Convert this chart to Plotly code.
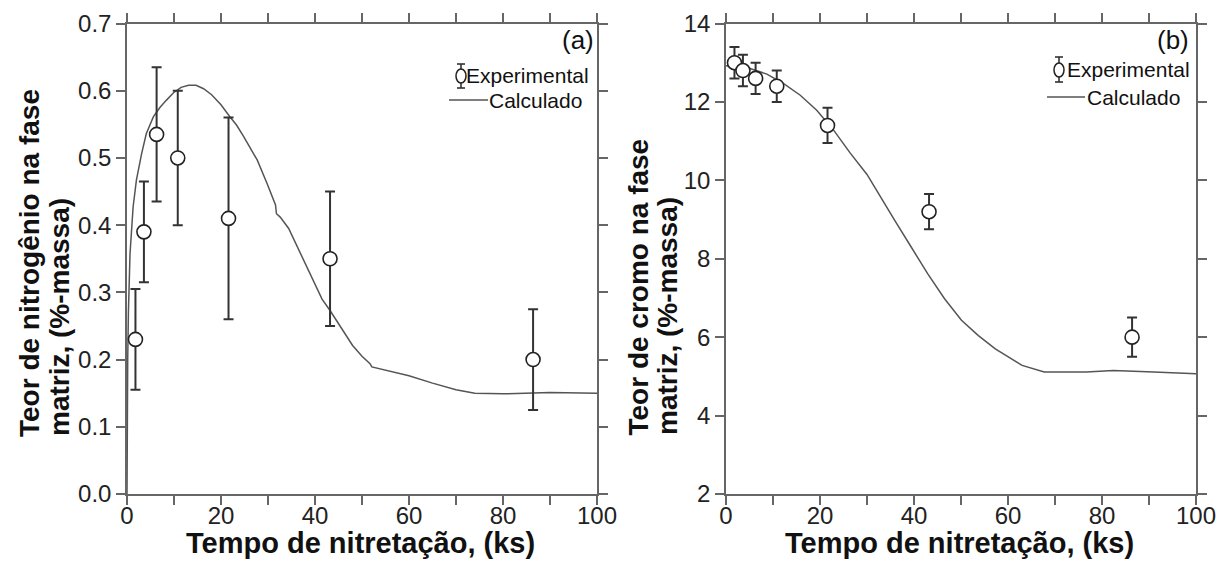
import plotly.graph_objects as go

W, H = 1227, 564

# ---------------- data ----------------
t_exp = [1.8, 3.6, 6.3, 10.8, 21.6, 43.2, 86.4]

n_exp = [0.23, 0.39, 0.535, 0.50, 0.41, 0.35, 0.20]
n_err = [0.075, 0.075, 0.10, 0.10, 0.15, 0.10, 0.075]

t_calc_n = [0, 0.05, 0.15, 0.3, 0.64, 1.3, 2.0, 3.1, 4.1, 5.6, 7.0, 8.4, 9.9, 11.5,
            13.1, 14.7, 16.3, 18.0, 20.0, 21.8, 23.3, 24.8, 27.7, 29.8, 31.6, 31.8,
            32.6, 34.4, 36.9, 39.7, 41.5, 43.2, 45.0, 48.0, 50.0, 51.7, 52.1, 56.0,
            60.0, 65.0, 70.0, 74.0, 80.0, 90.0, 100.0]
n_calc = [0.0, 0.10, 0.20, 0.27, 0.357, 0.427, 0.467, 0.506, 0.536, 0.561, 0.575,
          0.586, 0.597, 0.605, 0.608, 0.608, 0.603, 0.594, 0.579, 0.562, 0.549,
          0.532, 0.497, 0.462, 0.430, 0.417, 0.412, 0.395, 0.358, 0.318, 0.290,
          0.273, 0.253, 0.221, 0.205, 0.194, 0.189, 0.183, 0.176, 0.165, 0.155,
          0.150, 0.149, 0.151, 0.150]

cr_exp = [13.0, 12.8, 12.6, 12.4, 11.4, 9.2, 6.0]
cr_err = [0.4, 0.4, 0.4, 0.4, 0.45, 0.45, 0.5]

t_calc_cr = [0, 2.0, 5.1, 8.7, 12.2, 15.8, 19.3, 22.9, 26.4, 30.0, 32.2, 35.8, 39.4,
             42.9, 46.5, 50.1, 53.7, 57.3, 63.0, 67.7, 76.7, 82.4, 91.0, 100.0]
cr_calc = [12.92, 12.90, 12.85, 12.71, 12.47, 12.17, 11.79, 11.28, 10.70, 10.15,
           9.70, 9.00, 8.30, 7.62, 6.98, 6.43, 6.04, 5.70, 5.28, 5.11, 5.11, 5.15,
           5.11, 5.07]

x_ticks = list(range(0, 101, 10))
x_ticktext = [str(v) if v % 20 == 0 else "" for v in x_ticks]
yn_ticks = [0.0, 0.1, 0.2, 0.3, 0.4, 0.5, 0.6, 0.7]
yn_text = [f"{v:.1f}" for v in yn_ticks]
ycr_ticks = [2, 4, 6, 8, 10, 12, 14]
ycr_text = [str(v) for v in ycr_ticks]

FONT = "Liberation Sans, Arial, sans-serif"
AX = "#666666"
LINE = "#555555"
INK = "#222222"


def px(x):
    return x / W


def py(y):
    return 1 - y / H


fig = go.Figure()

# panel (a)
fig.add_trace(go.Scatter(x=t_calc_n, y=n_calc, mode="lines",
                         line=dict(color=LINE, width=1.5),
                         xaxis="x", yaxis="y", showlegend=False))
fig.add_trace(go.Scatter(x=t_exp, y=n_exp, mode="markers",
                         marker=dict(symbol="circle", size=14, color="white",
                                     line=dict(color=INK, width=1.6)),
                         error_y=dict(type="data", array=n_err, color="#333333",
                                      thickness=2, width=5),
                         xaxis="x", yaxis="y", showlegend=False))
# panel (b)
fig.add_trace(go.Scatter(x=t_calc_cr, y=cr_calc, mode="lines",
                         line=dict(color=LINE, width=1.5),
                         xaxis="x2", yaxis="y2", showlegend=False))
fig.add_trace(go.Scatter(x=t_exp, y=cr_exp, mode="markers",
                         marker=dict(symbol="circle", size=14, color="white",
                                     line=dict(color=INK, width=1.6)),
                         error_y=dict(type="data", array=cr_err, color="#333333",
                                      thickness=2, width=5),
                         xaxis="x2", yaxis="y2", showlegend=False))

axis_common = dict(ticks="outside", ticklen=9, tickwidth=1.5, tickcolor=AX,
                   showline=True, linecolor=AX, linewidth=1.5, mirror="ticks",
                   showgrid=False, zeroline=False, automargin=False,
                   tickfont=dict(family=FONT, size=24, color=INK))

ydom = [py(494), py(23.5)]

fig.update_layout(
    width=W, height=H, autosize=False,
    margin=dict(l=0, r=0, t=0, b=0, autoexpand=False),
    paper_bgcolor="white", plot_bgcolor="white",
    xaxis=dict(domain=[px(127), px(597)], range=[0, 100], anchor="y",
               tickvals=x_ticks, ticktext=x_ticktext, ticklabelstandoff=-10,
               **axis_common),
    yaxis=dict(domain=ydom, range=[0, 0.7], anchor="x",
               tickvals=yn_ticks, ticktext=yn_text, **axis_common),
    xaxis2=dict(domain=[px(726), px(1196)], range=[0, 100], anchor="y2",
                tickvals=x_ticks, ticktext=x_ticktext, ticklabelstandoff=-10,
                **axis_common),
    yaxis2=dict(domain=ydom, range=[2, 14], anchor="x2",
                tickvals=ycr_ticks, ticktext=ycr_text, **axis_common),
)

annotations = []
shapes = []


def ann(text, x, y, size, xanchor="center", yanchor="middle", bold=False,
        angle=0):
    annotations.append(dict(
        text=f"<b>{text}</b>" if bold else text,
        x=px(x), y=py(y), xref="paper", yref="paper",
        xanchor=xanchor, yanchor=yanchor, showarrow=False,
        textangle=angle, borderpad=0,
        font=dict(family=FONT, size=size, color="#111111")))


# axis titles
ann("Tempo de nitretação, (ks)", 360, 543, 29, bold=True)
ann("Tempo de nitretação, (ks)", 959, 543, 29, bold=True)
ann("Teor de nitrogênio na fase", 29, 438, 28, bold=True, angle=-90, yanchor="bottom")
ann("matriz, (%-massa)", 59, 437, 28, bold=True, angle=-90, yanchor="bottom")
ann("Teor de cromo na fase", 638, 436, 28, bold=True, angle=-90, yanchor="bottom")
ann("matriz, (%-massa)", 667, 436, 28, bold=True, angle=-90, yanchor="bottom")

# panel labels
ann("(a)", 595, 40, 26, xanchor="right")
ann("(b)", 1190, 40, 26, xanchor="right")


def legend(mx, my, eb0, eb1, exp_x, lx0, lx1, ly, calc_x):
    # error-bar symbol
    shapes.append(dict(type="line", xref="paper", yref="paper",
                       x0=px(mx), x1=px(mx), y0=py(eb0), y1=py(eb1),
                       line=dict(color="#333333", width=1.6)))
    for yy in (eb0, eb1):
        shapes.append(dict(type="line", xref="paper", yref="paper",
                           x0=px(mx - 4), x1=px(mx + 4), y0=py(yy), y1=py(yy),
                           line=dict(color="#333333", width=1.6)))
    shapes.append(dict(type="circle", xref="paper", yref="paper",
                       xsizemode="pixel", ysizemode="pixel",
                       xanchor=px(mx), yanchor=py(my),
                       x0=-5, x1=5, y0=-7, y1=7,
                       fillcolor="white", line=dict(color=INK, width=1.5)))
    ann("Experimental", exp_x, my - 1, 21, xanchor="left")
    shapes.append(dict(type="line", xref="paper", yref="paper",
                       x0=px(lx0), x1=px(lx1), y0=py(ly), y1=py(ly),
                       line=dict(color=LINE, width=1.5)))
    ann("Calculado", calc_x, ly, 21, xanchor="left")


legend(461, 76, 64, 88, 465, 449, 488, 100, 488)
legend(1059, 70, 57, 82, 1066, 1047, 1085, 97, 1086)

fig.update_layout(annotations=annotations, shapes=shapes)

fig.write_html(
    "out.html",
    post_script="document.documentElement.style.margin='0';"
                "document.body.style.margin='0';"
                "document.body.style.overflow='hidden';",
)
